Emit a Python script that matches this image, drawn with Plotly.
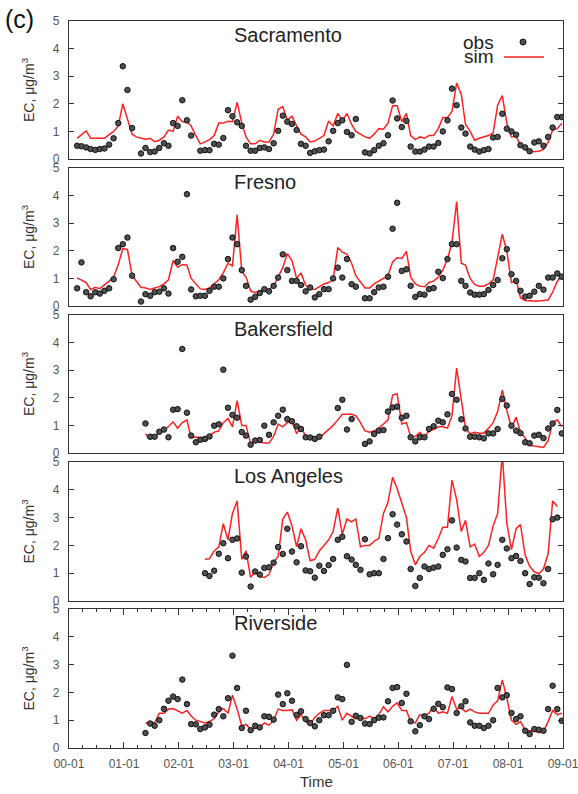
import pandas as pd
import plotly.graph_objects as go

N = 108  # monthly values, Jan 2000 .. Dec 2008


def series(start, values):
    out = [None] * start + list(values)
    return out[:N] + [None] * (N - len(out))


months = pd.date_range("2000-01-01", periods=N, freq="MS")
dates = months + pd.Timedelta(days=23)

stations = ["Sacramento", "Fresno", "Bakersfield", "Los Angeles", "Riverside"]
tick_labels = ["00-01", "01-01", "02-01", "03-01", "04-01", "05-01", "06-01", "07-01", "08-01", "09-01"]

# ---------------- Sacramento ----------------
sac_obs = series(1, [0.48, 0.46, 0.42, 0.36, 0.33, 0.36, 0.38, 0.52, 0.75, 1.3, 3.36, 2.5, 1.12, None,
                     0.2, 0.4, 0.25, 0.27, 0.4, 0.57, 0.48, 1.3, 1.2, 2.13, 1.4, 0.85, None,
                     0.3, 0.32, 0.32, 0.55, 0.52, 0.76, 1.77, 1.55, 1.33, 1.2, 0.48, 0.3, 0.3, 0.4, 0.42, 0.36,
                     0.57, 1.02, 1.57, 1.35, 1.27, 1.05, 0.55, 0.48, 0.22, 0.28, 0.32, 0.34, 0.64, 1.02, 1.3,
                     1.4, 0.98, 0.86, 1.45, None,
                     0.24, 0.2, 0.32, 0.48, 0.57, 0.86, 2.12, 1.47, 1.16, 1.38, 0.45, 0.27, 0.27, 0.34, 0.45,
                     0.45, 0.58, 1.0, 1.4, 2.55, 1.95, 1.14, 0.92, 0.45, 0.34, 0.27, 0.32, 0.36, 0.78, 0.8,
                     1.64, 1.1, 1.0, 0.88, 0.5, 0.42, 0.28, 0.6, 0.64, 0.48, 0.8, 1.14, 1.52, 1.52])
sac_sim = series(1, [0.75, 0.88, 1.02, 0.75, 0.75, 0.73, 0.75, 0.88, 1.0, 1.2,
                     2.0, 1.45, 0.9, 0.8, 0.75, 0.72, 0.75, 0.63, 0.68, 0.8,
                     1.05, 1.0, 1.55, 1.35, 1.35, 1.2, 0.85, 0.55, 0.62, 0.7,
                     0.85, 1.3, 1.3, 1.37, 1.35, 2.05, 1.3, 0.8, 0.55, 0.55,
                     0.68, 0.62, 0.62, 0.9, 1.8, 1.9, 1.4, 1.55, 1.2, 0.9,
                     0.8, 0.62, 0.65, 0.75, 0.85, 1.38, 1.2, 1.65, 1.38, 1.65,
                     1.25, 1.0, 0.9, 0.8, 0.75, 0.9, 1.1, 1.08, 1.3, 1.93,
                     1.93, 1.35, 1.65, 0.85, 0.7, 0.8, 0.75, 0.85, 0.85, 1.1,
                     1.5, 1.5, 1.72, 2.75, 2.35, 1.25, 1.0, 0.68, 0.75, 0.8,
                     0.85, 0.95, 1.95, 2.3, 1.3, 0.8, 0.82, 0.5, 0.35, 0.25,
                     0.27, 0.28, 0.35, 0.6, 1.05, 1.1, 1.3])

# ---------------- Fresno ----------------
fre_obs = series(1, [0.64, 1.58, 0.5, 0.35, 0.5, 0.45, 0.55, 0.64, 0.97, 2.1, 2.24, 2.48, 1.1, None,
                     0.16, 0.43, 0.37, 0.5, 0.52, 0.64, 0.45, 2.1, 1.6, 1.78, 4.05, 0.6, 0.35, 0.37, 0.37,
                     0.55, 0.7, 0.7, 1.0, 1.7, 2.48, 2.24, 1.3, 0.73, 0.23, 0.33, 0.47, 0.61, 0.53, 0.73,
                     1.03, 1.87, 1.3, 0.91, 0.91, 0.76, 0.53, 0.67, 0.31, 0.43, 0.61, 0.61, 1.0, 1.39, 1.03,
                     1.7, 0.79, 0.7, None,
                     0.28, 0.28, 0.5, 0.67, 0.7, 1.06, 2.8, 3.74, 1.27, 1.33, 0.73, 0.33, 0.43, 0.41, 0.61,
                     0.65, 1.24, 1.01, 1.7, 2.24, 2.24, 0.91, 0.73, 0.49, 0.41, 0.41, 0.43, 0.58, 0.76, 0.94,
                     1.73, 2.06, 1.15, 0.91, 0.55, 0.34, 0.37, 0.52, 0.73, 0.59, 1.03, 1.03, 1.18, 1.06])
fre_sim = series(1, [1.02, 0.95, 0.85, 0.6, 0.68, 0.63, 0.75, 0.9, 1.05, 1.5,
                     2.08, 2.05, 1.1, 0.9, 0.68, 0.65, 0.6, 0.65, 0.7, 0.8,
                     0.95, 1.65, 1.4, 1.5, 1.48, 1.0, 0.8, 0.62, 0.6, 0.65,
                     0.8, 0.95, 1.2, 1.55, 1.45, 3.3, 1.25, 1.05, 0.55, 0.48,
                     0.55, 0.55, 0.6, 0.72, 1.05, 1.4, 1.9, 1.65, 1.0, 1.2,
                     0.75, 0.62, 0.6, 0.7, 0.8, 0.85, 0.95, 2.12, 1.95, 1.88,
                     1.55, 1.1, 0.85, 0.65, 0.65, 0.8, 0.9, 1.0, 1.1, 1.6,
                     1.75, 1.72, 1.98, 1.05, 0.8, 0.72, 0.7, 0.85, 0.9, 1.05,
                     1.3, 1.7, 2.3, 3.78, 1.55, 1.48, 1.0, 0.78, 0.72, 0.72,
                     0.8, 0.95, 1.7, 2.6, 2.0, 0.85, 0.95, 0.3, 0.2, 0.18,
                     0.18, 0.18, 0.2, 0.22, 0.5, 0.9, 1.1])

# ---------------- Bakersfield ----------------
bak_obs = series(16, [1.07, 0.59, 0.59, 0.77, 0.85, 0.57, 1.57, 1.59, 3.77, 1.46, 0.63, 0.39, 0.48, 0.51,
                      0.6, 0.99, 1.04, 3.02, 1.64, 1.38, 1.28, 0.76, 0.63, 0.3, 0.45, 0.47, 0.99, 0.66,
                      1.11, 1.35, 1.57, 1.23, 1.15, 0.97, 0.87, 0.57, 0.56, 0.51, 0.59,
                      None, None, None, 1.63, 1.93, 0.85, 1.23, None, None,
                      0.33, 0.42, 0.69, 0.81, 0.83, 1.5, 1.65, 1.68, 1.28, 1.35, 0.57, 0.42, 0.57, 0.57,
                      0.87, 0.97, 1.17, 1.11, 1.4, 2.14, 1.93, 1.22, 0.89, 0.59, 0.59, 0.57, 0.53, 0.71,
                      0.71, 0.87, 1.96, 1.72, 0.99, 0.81, 0.72, 0.39, 0.35, 0.63, 0.66, 0.54, 0.89, 1.07,
                      1.56, 0.71])
bak_sim = series(16, [0.7, 0.5, 0.6, 0.72, 0.8, 0.95, 1.13, 0.9, 1.1, 1.2,
                      0.55, 0.58, 0.55, 0.58, 0.62, 0.75, 0.8, 1.1, 1.25, 0.95,
                      1.9, 1.0, 1.0, 0.35, 0.42, 0.4, 0.36, 0.36, 0.6, 1.05,
                      0.95, 1.1, 1.15, 0.7, 0.95, 0.6, 0.55, 0.5, 0.55, 0.7,
                      0.85, 1.0, 1.2, 1.4, 1.4, 1.4, 1.35, 1.1, 0.8, 0.75,
                      0.8, 0.9, 1.05, 1.2, 2.1, 2.15, 1.05, 1.1, 0.6, 0.6,
                      0.75, 0.55, 0.8, 0.85, 0.95, 0.95, 0.9, 1.35, 3.08, 1.9,
                      0.9, 0.7, 0.75, 0.72, 0.72, 0.9, 1.1, 1.5, 2.28, 1.55,
                      0.9, 1.3, 0.75, 0.55, 0.28, 0.25, 0.22, 0.2, 0.45, 1.1,
                      1.2, 0.95])

# ---------------- Los Angeles ----------------
la_obs = series(29, [1.0, 0.9, 1.09, 1.7, 2.08, 1.54, 2.2, 2.25, 1.02, 1.6,
                     0.52, 1.06, 0.95, 1.19, 1.21, 1.38, 1.94, 1.69, 2.6, 1.78,
                     1.39, 1.97, 1.1, 1.07, 0.84, 1.27, 1.08, 1.29, 1.51, 2.2,
                     2.31, 1.61, 1.49, 1.3, 1.12, 2.22, 0.96, 1.0, 1.0, 1.51,
                     2.26, 3.12, 2.75, 2.4, 2.14, 1.15, 0.54, 0.83, 1.24, 1.15,
                     1.2, 1.24, 1.66, 1.86, 2.9, 1.92, 1.48, 1.42, 0.83, 0.83,
                     1.0, 0.76, 1.35, 0.96, 1.3, 2.2, 1.89, 1.54, 1.62, 1.44,
                     1.0, 0.61, 0.85, 0.84, 0.64, 1.15, 2.94, 3.0])
la_sim = series(29, [1.5, 1.52, 1.8, 1.95, 2.78, 2.2, 3.15, 3.6, 1.5, 1.8,
                     0.85, 1.05, 0.88, 0.85, 0.95, 1.4, 1.6, 2.95, 3.2, 2.7,
                     1.95, 2.6, 2.2, 1.45, 1.5, 1.8, 2.0, 2.2, 2.5, 3.35,
                     2.4, 2.95, 2.85, 2.95, 1.95, 2.0, 2.0, 2.15, 2.25, 3.15,
                     3.55, 4.45, 4.05, 3.5, 3.0, 1.8, 1.3, 1.6, 1.75, 2.0,
                     1.9, 2.25, 2.65, 2.65, 4.35, 3.65, 2.5, 2.9, 1.95, 2.05,
                     1.6, 1.75, 2.0, 2.7, 3.15, 5.3, 2.8, 1.85, 2.6, 2.75,
                     1.65, 1.25, 1.05, 0.98, 1.15, 1.7, 3.6, 3.4])

# ---------------- Riverside ----------------
riv_obs = series(16, [0.54, 0.88, 0.8, 1.0, 1.41, 1.7, 1.85, 1.76, 2.46, 1.58,
                      0.86, 0.85, 0.68, 0.74, 0.84, 1.2, 1.4, 1.14, 1.79, 3.32,
                      2.16, 0.72, 1.34, 0.64, 0.8, 0.74, 1.14, 1.12, 1.02, 1.92,
                      1.58, 1.97, 1.7, 1.19, 1.32, 1.04, 0.9, 0.78, 1.0, 1.18,
                      1.18, 1.34, 1.82, 1.76, 2.99, 0.94, 1.16, 1.08, 0.88, 0.86,
                      1.0, 1.09, 1.1, 1.68, 2.16, 2.19, 1.62, 1.95, 0.96, 0.6,
                      0.82, 1.14, 1.04, 1.41, 1.59, 1.47, 2.18, 2.12, 1.26, 1.5,
                      1.68, 0.92, 0.8, 0.8, 0.72, 0.8, 1.0, 2.16, 1.82, 1.9,
                      1.26, 1.04, 1.14, 0.62, 0.5, 0.68, 0.66, 0.62, 1.4, 2.24,
                      1.4, 0.98])
riv_sim = series(16, [0.88, 0.95, 0.9, 1.25, 1.25, 1.4, 1.42, 1.35, 1.25, 1.35,
                      1.15, 1.0, 0.95, 0.9, 0.95, 1.05, 1.3, 1.42, 1.25, 1.9,
                      1.4, 0.8, 0.85, 0.68, 0.7, 0.75, 0.9, 0.82, 1.0, 1.4,
                      1.35, 1.35, 1.38, 1.0, 1.2, 0.95, 0.85, 1.1, 1.25, 1.35,
                      1.35, 1.35, 1.5, 1.0, 1.25, 1.15, 1.05, 1.1, 1.05, 1.15,
                      1.05, 1.2, 1.48, 1.3, 1.5, 1.62, 1.35, 1.35, 0.95, 0.9,
                      1.2, 1.15, 1.25, 1.5, 1.25, 1.3, 1.25, 1.85, 1.4, 1.45,
                      1.3, 1.4, 1.3, 1.25, 1.25, 1.25, 1.55, 1.7, 2.45, 1.8,
                      1.0, 0.85, 0.95, 0.65, 0.62, 0.62, 0.55, 0.6, 0.95, 1.35,
                      1.2, 1.25])

obs_all = [sac_obs, fre_obs, bak_obs, la_obs, riv_obs]
sim_all = [sac_sim, fre_sim, bak_sim, la_sim, riv_sim]

# ---------------- figure ----------------
FONT = "Liberation Sans, Arial, Helvetica, sans-serif"
TICK_COLOR = "#555555"
W, H = 578, 794
ML, MR, MT, MB = 69, 15, 21, 46
PW, PH = W - ML - MR, H - MT - MB
panel_px = [(21, 159), (168, 306), (315, 453), (462, 601), (609, 748)]


def py(y):
    return (H - MB - y) / PH


def px(x):
    return (x - ML) / PW


fig = go.Figure()
layout = dict(
    template="none",
    width=W, height=H,
    margin=dict(l=ML, r=MR, t=MT, b=MB, pad=0),
    paper_bgcolor="white", plot_bgcolor="white",
    showlegend=False,
    font=dict(family=FONT, color="#333333"),
)
annotations = []
shapes = []

for i, name in enumerate(stations):
    n = i + 1
    xa = "x" if n == 1 else f"x{n}"
    ya = "y" if n == 1 else f"y{n}"
    fig.add_trace(go.Scatter(x=dates, y=sim_all[i], mode="lines", xaxis=xa, yaxis=ya,
                             line=dict(color="#ff2020", width=1.5), connectgaps=False, name="sim"))
    fig.add_trace(go.Scatter(x=dates, y=obs_all[i], mode="markers", xaxis=xa, yaxis=ya,
                             marker=dict(size=5.5, color="#505050", line=dict(color="#111111", width=1)),
                             name="obs"))
    top, bot = panel_px[i]
    is_bottom = n == len(stations)
    xkey = "xaxis" if n == 1 else f"xaxis{n}"
    ykey = "yaxis" if n == 1 else f"yaxis{n}"
    xdict = dict(
        type="date", range=["2000-01-01", "2009-01-01"], domain=[0, 1], anchor=ya,
        showline=True, linecolor="#333333", linewidth=1.3, mirror=True, showgrid=False, zeroline=False,
        showticklabels=False, ticks="",
    )
    if is_bottom:
        xdict.update(
            showticklabels=True, ticks="inside", ticklen=6, tickcolor="#333333", tickwidth=1,
            mirror="ticks", tickformat="%y-%m", dtick="M12", tick0="2000-01-01",
            ticklabelstandoff=4, ticklabeloverflow="allow",
            tickfont=dict(size=12, color=TICK_COLOR, family=FONT),
            minor=dict(dtick="M3", tick0="2000-01-01", ticks="inside", ticklen=3,
                       tickcolor="#333333", tickwidth=1, showgrid=False),
        )
    else:
        xdict["matches"] = "x5"
    layout[xkey] = xdict
    layout[ykey] = dict(
        range=[0, 5], domain=[py(bot), py(top)], anchor=xa,
        tickvals=[0, 1, 2, 3, 4, 5], ticks="inside", ticklen=5, tickcolor="#333333", tickwidth=1,
        showline=True, linecolor="#333333", linewidth=1.3, mirror="ticks",
        showgrid=False, zeroline=False, ticklabelstandoff=6, ticklabeloverflow="allow",
        tickfont=dict(size=12, color=TICK_COLOR, family=FONT),
    )
    # panel title
    annotations.append(dict(text=name, xref="paper", yref="paper", x=px(232), y=py(top + 14),
                            xanchor="left", yanchor="middle", showarrow=False,
                            font=dict(size=20, color="#222222", family=FONT)))
    # y-axis title
    annotations.append(dict(text="EC, μg/m<sup>3</sup>", xref="paper", yref="paper",
                            x=px(28), y=py((top + bot) / 2), xanchor="center", yanchor="middle",
                            textangle=-90, showarrow=False,
                            font=dict(size=14, color="#333333", family=FONT)))

# x title
annotations.append(dict(text="Time", xref="paper", yref="paper", x=px(316), y=py(781),
                        xanchor="center", yanchor="middle", showarrow=False,
                        font=dict(size=15, color="#333333", family=FONT)))
# panel tag
annotations.append(dict(text="(c)", xref="paper", yref="paper", x=px(3), y=py(19),
                        xanchor="left", yanchor="middle", showarrow=False,
                        font=dict(size=25, color="#111111", family=FONT)))
# legend (manual, gnuplot style)
annotations.append(dict(text="obs", xref="paper", yref="paper", x=px(496), y=py(42),
                        xanchor="right", yanchor="middle", showarrow=False,
                        font=dict(size=19, color="#222222", family=FONT)))
annotations.append(dict(text="sim", xref="paper", yref="paper", x=px(496), y=py(56),
                        xanchor="right", yanchor="middle", showarrow=False,
                        font=dict(size=19, color="#222222", family=FONT)))
shapes.append(dict(type="circle", xref="paper", yref="paper", xsizemode="pixel", ysizemode="pixel",
                   xanchor=px(523), yanchor=py(42), x0=-3, x1=3, y0=-3, y1=3,
                   fillcolor="#505050", line=dict(color="#111111", width=1)))
shapes.append(dict(type="line", xref="paper", yref="paper", x0=px(504), x1=px(544),
                   y0=py(57), y1=py(57), line=dict(color="#ff2020", width=1.5)))

layout["annotations"] = annotations
layout["shapes"] = shapes
fig.update_layout(**layout)

fig.write_html("out.html")
